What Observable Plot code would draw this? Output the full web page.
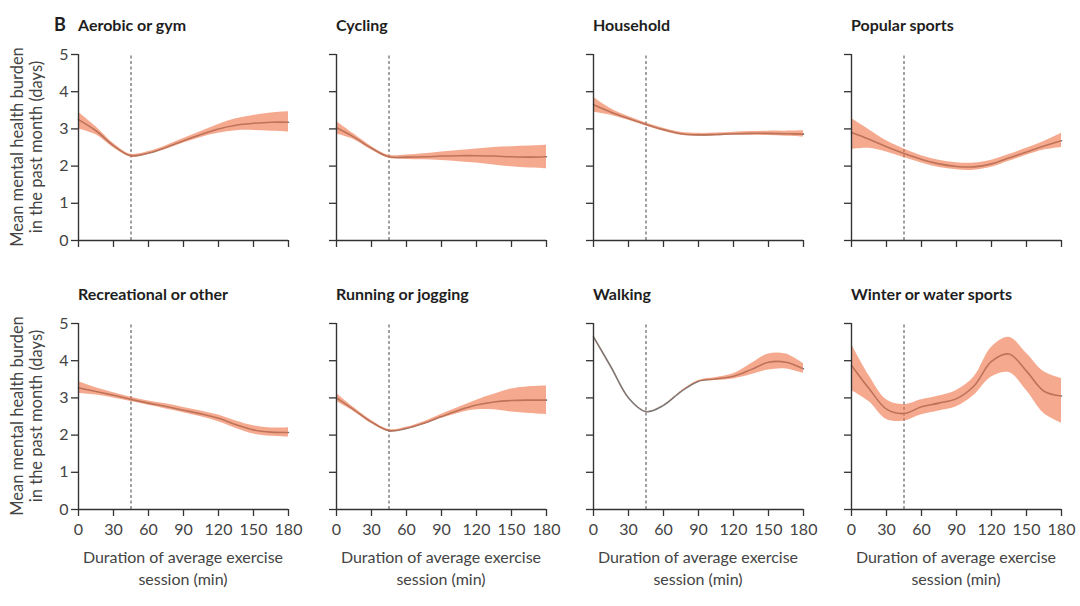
<!DOCTYPE html>
<html>
<head>
<meta charset="utf-8">
<script src="https://cdn.jsdelivr.net/npm/d3@7"></script>
<script src="https://cdn.jsdelivr.net/npm/@observablehq/plot@0.6"></script>
<style>
  html, body { margin: 0; padding: 0; background: #fff; }
  #chart { position: relative; width: 1080px; height: 606px; background: #fff; overflow: hidden; font-family: Lato, "Open Sans", sans-serif; }
  .panel { position: absolute; }
  .title { position: absolute; font-weight: bold; font-size: 16px; color: #1e1e1e; white-space: nowrap; line-height: 18px; }
  .xlab { position: absolute; width: 260px; text-align: center; font-size: 16px; color: #444; line-height: 22px; }
  .ylab { position: absolute; width: 240px; text-align: center; font-size: 16.5px; color: #444; line-height: 19px; transform: rotate(-90deg); transform-origin: center center; white-space: nowrap; }
</style>
</head>
<body>
<div id="chart"></div>
<script>
// ---- data ----
const xs = [0, 15, 30, 45, 60, 75, 90, 105, 120, 135, 150, 165, 180];
const xTicks = [0, 30, 60, 90, 120, 150, 180];
const yTicks = [0, 1, 2, 3, 4, 5];
const optimum = 45;

const titles = ["Aerobic or gym", "Cycling", "Household", "Popular sports",
                "Recreational or other", "Running or jogging", "Walking", "Winter or water sports"];

const aerobicMean = [3.25, 2.95, 2.55, 2.28, 2.35, 2.50, 2.68, 2.85, 3.00, 3.10, 3.15, 3.18, 3.18];
const aerobicLo   = [3.00, 2.84, 2.49, 2.24, 2.31, 2.45, 2.62, 2.77, 2.88, 2.95, 2.96, 2.94, 2.92];
const aerobicHi   = [3.45, 3.06, 2.61, 2.32, 2.39, 2.55, 2.74, 2.93, 3.12, 3.27, 3.36, 3.43, 3.46];

const cyclingMean = [3.03, 2.78, 2.48, 2.25, 2.24, 2.25, 2.27, 2.28, 2.28, 2.27, 2.25, 2.24, 2.25];
const cyclingLo   = [2.86, 2.71, 2.43, 2.21, 2.18, 2.17, 2.15, 2.12, 2.08, 2.03, 1.98, 1.95, 1.93];
const cyclingHi   = [3.20, 2.86, 2.53, 2.29, 2.30, 2.33, 2.38, 2.42, 2.46, 2.50, 2.52, 2.54, 2.56];

const householdMean = [3.65, 3.45, 3.28, 3.12, 2.98, 2.87, 2.84, 2.85, 2.87, 2.88, 2.88, 2.87, 2.86];
const householdLo   = [3.45, 3.37, 3.23, 3.08, 2.94, 2.83, 2.80, 2.81, 2.83, 2.83, 2.82, 2.80, 2.78];
const householdHi   = [3.85, 3.54, 3.33, 3.16, 3.02, 2.91, 2.88, 2.89, 2.91, 2.93, 2.94, 2.94, 2.95];

const popularMean = [2.90, 2.72, 2.52, 2.34, 2.18, 2.06, 1.99, 1.98, 2.06, 2.22, 2.38, 2.54, 2.68];
const popularLo   = [2.45, 2.48, 2.38, 2.23, 2.08, 1.96, 1.90, 1.89, 1.97, 2.13, 2.29, 2.43, 2.50];
const popularHi   = [3.28, 2.98, 2.68, 2.46, 2.28, 2.16, 2.09, 2.08, 2.16, 2.31, 2.48, 2.66, 2.88];

const recreationalMean = [3.27, 3.17, 3.07, 2.96, 2.86, 2.77, 2.67, 2.57, 2.45, 2.28, 2.14, 2.08, 2.07];
const recreationalLo   = [3.12, 3.08, 3.00, 2.90, 2.80, 2.70, 2.60, 2.49, 2.36, 2.18, 2.03, 1.97, 1.95];
const recreationalHi   = [3.44, 3.27, 3.14, 3.02, 2.92, 2.84, 2.74, 2.65, 2.54, 2.38, 2.25, 2.19, 2.20];

const runningMean = [3.00, 2.68, 2.35, 2.12, 2.18, 2.32, 2.50, 2.67, 2.81, 2.89, 2.93, 2.94, 2.94];
const runningLo   = [2.90, 2.63, 2.31, 2.09, 2.15, 2.28, 2.45, 2.59, 2.68, 2.68, 2.62, 2.58, 2.55];
const runningHi   = [3.12, 2.74, 2.39, 2.15, 2.21, 2.36, 2.56, 2.75, 2.94, 3.10, 3.24, 3.30, 3.32];

const walkingMean = [4.64, 3.83, 3.00, 2.63, 2.80, 3.17, 3.45, 3.51, 3.58, 3.76, 3.96, 3.96, 3.78];
const walkingLo   = [4.63, 3.825, 2.995, 2.625, 2.795, 3.16, 3.43, 3.47, 3.51, 3.62, 3.75, 3.78, 3.66];
const walkingHi   = [4.65, 3.835, 3.005, 2.635, 2.805, 3.18, 3.47, 3.55, 3.65, 3.92, 4.18, 4.18, 3.92];

const winterMean = [3.87, 3.25, 2.70, 2.58, 2.76, 2.86, 2.98, 3.32, 3.98, 4.18, 3.72, 3.18, 3.05];
const winterLo   = [3.20, 2.90, 2.42, 2.38, 2.55, 2.65, 2.76, 3.07, 3.56, 3.68, 3.20, 2.58, 2.32];
const winterHi   = [4.45, 3.60, 2.95, 2.82, 2.95, 3.05, 3.20, 3.56, 4.36, 4.63, 4.20, 3.70, 3.52];

const series = [
  [aerobicMean, aerobicLo, aerobicHi],
  [cyclingMean, cyclingLo, cyclingHi],
  [householdMean, householdLo, householdHi],
  [popularMean, popularLo, popularHi],
  [recreationalMean, recreationalLo, recreationalHi],
  [runningMean, runningLo, runningHi],
  [walkingMean, walkingLo, walkingHi],
  [winterMean, winterLo, winterHi]
];

// ---- layout ----
const colX = [78, 336, 593, 851];
const rowY = [54, 323];
const innerW = 210, innerH = 186;
const mL = 40, mR = 10, mT = 10, mB = 40;

const chart = document.getElementById("chart");

series.forEach(([mean, lo, hi], i) => {
  const r = Math.floor(i / 4), c = i % 4;
  const rows = xs.map((x, k) => ({x, m: mean[k], lo: lo[k], hi: hi[k]}));
  const bottom = r === 1, left = c === 0;
  const svg = Plot.plot({
    width: innerW + mL + mR,
    height: innerH + mT + mB,
    marginLeft: mL, marginRight: mR, marginTop: mT, marginBottom: mB,
    style: {background: "transparent", fontFamily: "Lato, 'Open Sans', sans-serif", fontSize: "16px", color: "#444", overflow: "visible"},
    x: {domain: [0, 180]},
    y: {domain: [0, 5]},
    marks: [
      Plot.ruleX([optimum], {y1: 0, y2: 5, stroke: "#444", strokeWidth: 1, strokeDasharray: "3,2.5"}),
      Plot.line(rows, {x: "x", y: "m", stroke: "#767676", strokeWidth: 1.6, curve: "catmull-rom"}),
      Plot.areaY(rows, {x: "x", y1: "lo", y2: "hi", fill: "#ee7144", fillOpacity: 0.6, curve: "catmull-rom"}),
      Plot.ruleY([0], {x1: 0, x2: 180, stroke: "#333", strokeWidth: 1.4}),
      Plot.ruleX([0], {y1: 0, y2: 5, stroke: "#333", strokeWidth: 1.4}),
      Plot.axisX(xTicks, {tickSize: 7, tickPadding: 7, stroke: "#333", strokeWidth: 1.3, fill: bottom ? "#444" : "none", label: null}),
      Plot.axisY(yTicks, {tickSize: 7, tickPadding: 3, stroke: "#333", strokeWidth: 1.3, fill: left ? "#444" : "none", label: null})
    ]
  });
  svg.classList.add("panel");
  svg.style.left = (colX[c] - mL) + "px";
  svg.style.top = (rowY[r] - mT) + "px";
  svg.style.maxWidth = "none";
  chart.appendChild(svg);

  const t = document.createElement("div");
  t.className = "title";
  t.style.left = colX[c] + "px";
  t.style.top = (r === 0 ? 16 : 285) + "px";
  t.textContent = titles[i];
  chart.appendChild(t);

  if (bottom) {
    const xl = document.createElement("div");
    xl.className = "xlab";
    xl.style.left = (colX[c] + innerW / 2 - 130) + "px";
    xl.style.top = "546px";
    xl.innerHTML = "Duration of average exercise<br>session (min)";
    chart.appendChild(xl);
  }
  if (left) {
    const yl = document.createElement("div");
    yl.className = "ylab";
    const cy = rowY[r] + innerH / 2;
    yl.style.left = (27 - 120) + "px";
    yl.style.top = (cy - 19) + "px";
    yl.innerHTML = "Mean mental health burden<br>in the past month (days)";
    chart.appendChild(yl);
  }
});

const b = document.createElement("div");
b.className = "title";
b.style.left = "54px";
b.style.top = "15px";
b.style.fontSize = "18px";
b.textContent = "B";
chart.appendChild(b);
</script>
</body>
</html>
